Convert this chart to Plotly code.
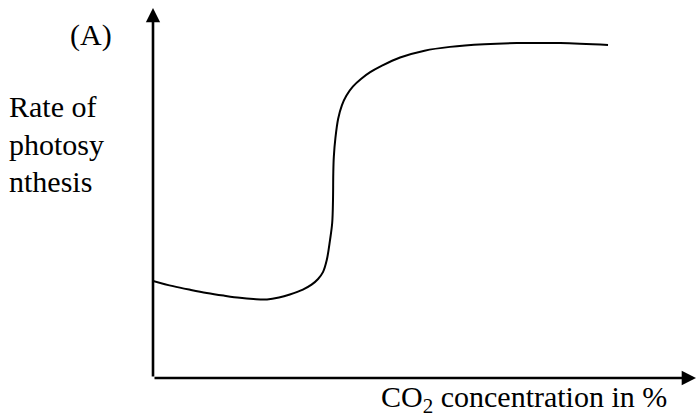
import plotly.graph_objects as go

# CO2 concentration (arbitrary units, 0-100) and rate of photosynthesis (arbitrary units)
co2 = [0, 3.7, 7.0, 9.9, 13.0, 16.0, 18.5, 21.0, 23.2, 25.2, 27.6, 29.2, 30.4, 31.3, 32.0,
       32.6, 33.0, 33.15, 33.2, 33.3, 33.6, 34.1, 34.8, 35.6, 36.8, 38.3, 40.0, 42.0, 45.5,
       50.0, 54.7, 61.0, 67.0, 75.0, 83.8]
rate = [25.7, 24.3, 23.3, 22.5, 21.8, 21.2, 20.9, 20.8, 21.3, 22.1, 23.4, 24.7, 26.2, 28.0, 31.2,
        36.5, 41.0, 47.1, 54.0, 58.5, 63.6, 68.6, 72.2, 74.7, 77.1, 79.1, 80.9, 82.5, 84.8,
        86.6, 87.6, 88.3, 88.6, 88.6, 88.1]

panel_label = "(A)"
y_label_lines = ["Rate of", "photosy", "nthesis"]
x_label = "CO<sub>2</sub> concentration in %"

W, H = 696, 417
L, R, T, B = 153, 0, 0, 39
pw, ph = W - L - R, H - T - B

def px(x):
    return (x - L) / pw

def py(y):
    return (H - B - y) / ph

font = dict(family="'Times New Roman', 'Liberation Serif', serif", size=30, color="black")

fig = go.Figure()
fig.add_trace(go.Scatter(x=co2, y=rate, mode="lines",
                         line=dict(color="black", width=2, shape="spline", smoothing=1.0),
                         hoverinfo="skip", showlegend=False))

annotations = []
# axes arrows
annotations.append(dict(x=100, y=0, ax=0, ay=0, xref="x", yref="y", axref="x", ayref="y",
                        showarrow=True, arrowhead=2, arrowsize=1.1, arrowwidth=2.6,
                        arrowcolor="black", text=""))
annotations.append(dict(x=0, y=97.9, ax=0, ay=0, xref="x", yref="y", axref="x", ayref="y",
                        showarrow=True, arrowhead=2, arrowsize=1.1, arrowwidth=2.6,
                        arrowcolor="black", text=""))
annotations.append(dict(x=px(91), y=py(35), xref="paper", yref="paper", text=panel_label,
                        showarrow=False, xanchor="center", yanchor="middle", font=font))
for i, line in enumerate(y_label_lines):
    annotations.append(dict(x=px(7), y=py(107 + 37 * i), xref="paper", yref="paper", text=line,
                            showarrow=False, xanchor="left", yanchor="middle", font=font))
annotations.append(dict(x=px(524), y=py(399), xref="paper", yref="paper", text=x_label,
                        showarrow=False, xanchor="center", yanchor="middle", font=font))

fig.update_layout(
    width=W, height=H,
    margin=dict(l=L, r=R, t=T, b=B),
    paper_bgcolor="white", plot_bgcolor="white",
    font=font,
    xaxis=dict(range=[0, 100], visible=False, fixedrange=True),
    yaxis=dict(range=[0, 100], visible=False, fixedrange=True),
    annotations=annotations,
    showlegend=False,
)

fig.write_html("out.html", config={"displayModeBar": False},
               post_script="document.body.style.margin='0';document.body.style.overflow='hidden';")
